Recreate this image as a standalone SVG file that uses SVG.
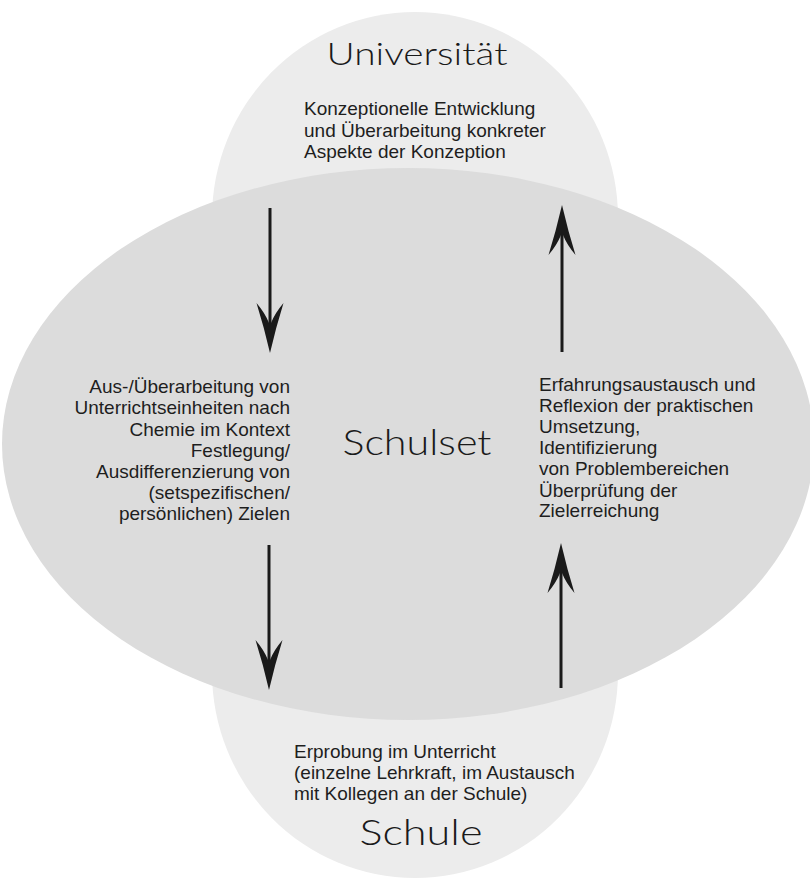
<svg xmlns="http://www.w3.org/2000/svg" width="810" height="880" viewBox="0 0 810 880">
<style>
.lightshape{fill:#ececec;}
.mainshape{fill:#dcdcdc;}
.big{font-family:"Lato","Open Sans","Liberation Sans",sans-serif;font-weight:300;fill:#1a1a1a;}
.txt{font-family:"Liberation Sans",Arial,sans-serif;font-size:19px;fill:#1e1e1e;}
.arrow{stroke:#1a1a1a;stroke-width:3;fill:none;marker-end:url(#head);}
</style>
<defs>
<marker id="head" markerUnits="userSpaceOnUse" viewBox="-52 -15 54 30" refX="-20" refY="0" markerWidth="54" markerHeight="30" orient="auto" overflow="visible">
<path d="M0,0 Q-26,-6 -50,-13.5 Q-40,-5 -30,-1 L-30,1 Q-40,5 -50,13.5 Q-26,6 0,0 Z" fill="#1a1a1a"/>
</marker>
</defs>
<rect width="810" height="880" fill="#ffffff"/>
<g id="universitaet">
<ellipse class="lightshape" cx="415" cy="218" rx="203" ry="206"/>
<text class="big" x="417" y="65" font-size="31" text-anchor="middle" textLength="181" lengthAdjust="spacingAndGlyphs">Universität</text>
<text class="txt" x="304" y="115">Konzeptionelle Entwicklung</text>
<text class="txt" x="304" y="137">und Überarbeitung konkreter</text>
<text class="txt" x="304" y="158">Aspekte der Konzeption</text>
</g>
<g id="schule">
<ellipse class="lightshape" cx="415" cy="672" rx="203" ry="206"/>
</g>
<g id="schulset">
<ellipse class="mainshape" cx="408" cy="444" rx="406" ry="276"/>
<text class="big" x="417" y="455" font-size="36" text-anchor="middle" textLength="149" lengthAdjust="spacingAndGlyphs">Schulset</text>
</g>
<g id="schule-text">
<text class="txt" x="294" y="758">Erprobung im Unterricht</text>
<text class="txt" x="294" y="779">(einzelne Lehrkraft, im Austausch</text>
<text class="txt" x="294" y="800">mit Kollegen an der Schule)</text>
<text class="big" x="421" y="845" font-size="36" text-anchor="middle" textLength="123" lengthAdjust="spacingAndGlyphs">Schule</text>
</g>
<g id="planung">
<text class="txt" text-anchor="end" x="290" y="393">Aus-/Überarbeitung von</text>
<text class="txt" text-anchor="end" x="290" y="414">Unterrichtseinheiten nach</text>
<text class="txt" text-anchor="end" x="290" y="436">Chemie im Kontext</text>
<text class="txt" text-anchor="end" x="290" y="457">Festlegung/</text>
<text class="txt" text-anchor="end" x="290" y="478">Ausdifferenzierung von</text>
<text class="txt" text-anchor="end" x="290" y="499">(setspezifischen/</text>
<text class="txt" text-anchor="end" x="290" y="520">persönlichen) Zielen</text>
</g>
<g id="reflexion">
<text class="txt" x="539" y="391">Erfahrungsaustausch und</text>
<text class="txt" x="539" y="412">Reflexion der praktischen</text>
<text class="txt" x="539" y="433">Umsetzung,</text>
<text class="txt" x="539" y="454">Identifizierung</text>
<text class="txt" x="539" y="475">von Problembereichen</text>
<text class="txt" x="539" y="497">Überprüfung der</text>
<text class="txt" x="539" y="517">Zielerreichung</text>
</g>
<g id="connectors">
<line class="arrow" x1="270" y1="208" x2="270" y2="333"/>
<line class="arrow" x1="269" y1="545" x2="269" y2="670"/>
<line class="arrow" x1="562" y1="352" x2="562" y2="225"/>
<line class="arrow" x1="561" y1="688" x2="561" y2="563"/>
</g>
</svg>
